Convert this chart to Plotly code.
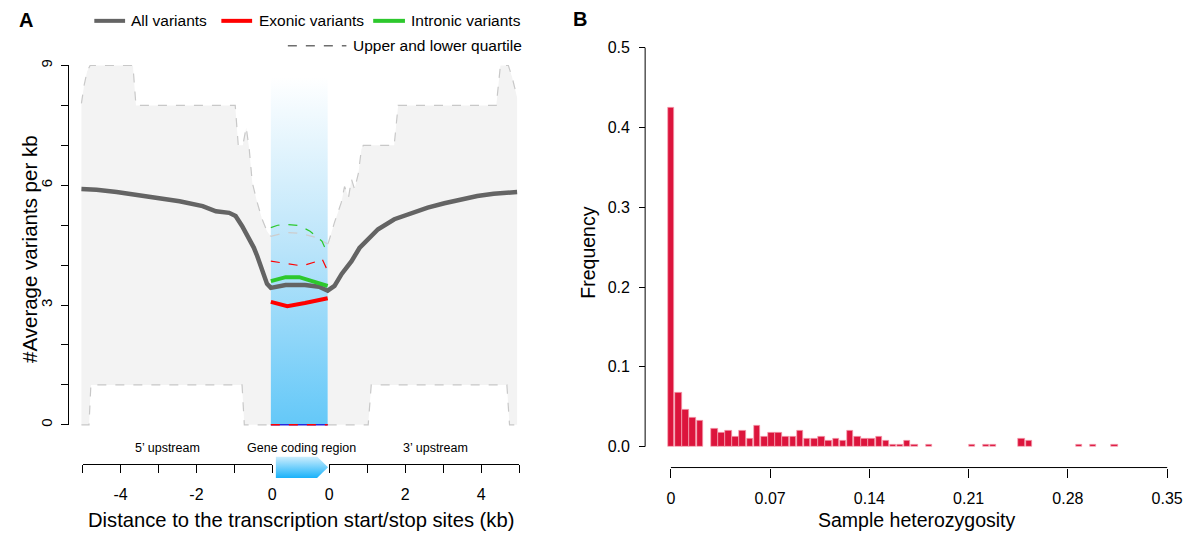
import plotly.graph_objects as go

W, H = 1194, 542
def px(x): return x / W
def py(y): return 1 - y / H

FONT = "Liberation Sans, Arial, sans-serif"

# ---------------- Panel A data ----------------
# quartile envelopes (kb from TSS / TES)
upper_left_kb = [-5, -4.93, -4.85, -4.77, -3.64, -3.56, -0.94, -0.86, -0.74, -0.67, -0.65, -0.57, -0.49, -0.36, -0.23, -0.10, 0]
upper_left_val = [8.05, 8.5, 8.85, 9.0, 9.0, 8.0, 8.0, 7.0, 7.0, 7.4, 7.45, 6.9, 6.07, 5.57, 5.15, 4.85, 4.72]
lower_left_kb = [-5, -4.8, -4.75, -0.76, -0.70, 0]
lower_left_val = [0, 0, 1, 1, 0, 0]
upper_right_kb = [0, 0.03, 0.18, 0.36, 0.445, 0.55, 0.63, 0.71, 0.81, 0.89, 0.94, 1.755, 1.86, 4.45, 4.56, 4.77, 4.87, 5.0]
upper_right_val = [4.53, 4.6, 5.07, 5.57, 5.97, 5.7, 6.15, 5.9, 6.3, 6.9, 7.0, 7.0, 8.0, 8.0, 9.0, 9.0, 8.7, 8.2]
lower_right_kb = [0, 1.07, 1.15, 4.73, 4.8, 5.0]
lower_right_val = [0, 0, 1, 1, 0, 0]

# all variants mean
all_left_kb = [-5, -4.6, -4.07, -3.46, -2.94, -2.41, -1.80, -1.45, -1.10, -0.93, -0.76, -0.58, -0.45, -0.36, -0.23, -0.10, 0]
all_left_val = [5.91, 5.89, 5.83, 5.75, 5.69, 5.60, 5.48, 5.35, 5.31, 5.23, 4.98, 4.69, 4.44, 4.23, 3.86, 3.53, 3.43]
all_gene_frac = [0, 0.26, 0.6, 0.85, 1.0]
all_gene_val = [3.43, 3.5, 3.5, 3.46, 3.36]
all_right_kb = [0, 0.18, 0.37, 0.63, 0.84, 1.07, 1.33, 1.76, 2.2, 2.64, 3.08, 3.51, 3.95, 4.38, 5.0]
all_right_val = [3.36, 3.48, 3.78, 4.1, 4.43, 4.65, 4.9, 5.15, 5.31, 5.44, 5.55, 5.64, 5.73, 5.79, 5.83]

# gene coding region (fraction of gene body)
exon_frac = [0, 0.29, 0.6, 1.0]
exon_val = [3.08, 2.97, 3.05, 3.17]
intron_frac = [0, 0.26, 0.5, 0.78, 1.0]
intron_val = [3.6, 3.7, 3.7, 3.58, 3.48]
all_up_gene_frac = [0, 0.26, 0.5, 0.78, 1.0]
all_up_gene_val = [4.72, 4.82, 4.8, 4.7, 4.53]
intron_up_frac = [0, 0.12, 0.29, 0.5, 0.69, 0.9, 1.0]
intron_up_val = [4.94, 5.0, 5.02, 4.99, 4.85, 4.6, 4.28]
exon_up_frac = [0, 0.33, 0.55, 0.78, 0.9, 0.97, 1.0]
exon_up_val = [4.1, 4.02, 3.98, 4.08, 4.16, 3.95, 3.72]
gene_low_frac = [0, 1.0]
gene_low_val = [0, 0]

y_ticks_A = [0, 1, 2, 3, 4, 5, 6, 7, 8, 9]
y_labels_A = ["0", "", "", "3", "", "", "6", "", "", "9"]
left_ticks = [-5, -4, -3, -2, -1, 0]
left_labels = ["", "-4", "", "-2", "", "0"]
right_ticks = [0, 1, 2, 3, 4, 5]
right_labels = ["0", "", "2", "", "4", ""]

# ---------------- Panel B data ----------------
het_x = [0.0, 0.0053, 0.0104, 0.0153, 0.0204, 0.0306, 0.0356, 0.0406, 0.0456, 0.0507,
         0.0558, 0.0608, 0.0659, 0.0709, 0.0760, 0.0810, 0.0861, 0.0910, 0.0961, 0.1013,
         0.1063, 0.1113, 0.1164, 0.1215, 0.1265, 0.1316, 0.1365, 0.1416, 0.1467, 0.1518,
         0.1568, 0.1617, 0.1666, 0.1717, 0.1820, 0.2123, 0.2221, 0.2273, 0.2473, 0.2525,
         0.2879, 0.2977, 0.3129]
het_freq = [0.425, 0.068, 0.046, 0.036, 0.033, 0.023, 0.017, 0.020, 0.013, 0.020,
            0.010, 0.026, 0.013, 0.017, 0.017, 0.013, 0.013, 0.020, 0.010, 0.010,
            0.013, 0.007, 0.010, 0.007, 0.020, 0.013, 0.010, 0.010, 0.013, 0.007,
            0.003, 0.003, 0.007, 0.003, 0.003, 0.003, 0.003, 0.003, 0.010, 0.007,
            0.003, 0.003, 0.003]
x_ticks_B = [0, 0.07, 0.14, 0.21, 0.28, 0.35]
x_labels_B = ["0", "0.07", "0.14", "0.21", "0.28", "0.35"]
y_ticks_B = [0, 0.1, 0.2, 0.3, 0.4, 0.5]
y_labels_B = ["0.0", "0.1", "0.2", "0.3", "0.4", "0.5"]

# ---------------- mapping to plot coordinate ----------------
GENE_W = 1.5
def L(kb): return [k + 5 for k in kb]
def G(fr): return [5 + GENE_W * f for f in fr]
def R(kb): return [5 + GENE_W + k for k in kb]

GREY_LINE = "rgb(100,100,100)"
RED = "rgb(255,0,0)"
GREEN = "rgb(45,200,45)"
Q_GREY = "rgb(200,200,200)"
FILL = "rgb(243,243,243)"

fig = go.Figure()
nolegend = dict(showlegend=False, hoverinfo="skip")

# envelope fills
fig.add_trace(go.Scatter(x=L(upper_left_kb) + L(lower_left_kb)[::-1],
                         y=upper_left_val + lower_left_val[::-1],
                         fill="toself", fillcolor=FILL, mode="lines", line=dict(width=0), **nolegend))
fig.add_trace(go.Scatter(x=R(upper_right_kb) + R(lower_right_kb)[::-1],
                         y=upper_right_val + lower_right_val[::-1],
                         fill="toself", fillcolor=FILL, mode="lines", line=dict(width=0), **nolegend))
for xs, ys in [(L(upper_left_kb), upper_left_val), (L(lower_left_kb), lower_left_val),
               (R(upper_right_kb), upper_right_val), (R(lower_right_kb), lower_right_val)]:
    fig.add_trace(go.Scatter(x=xs, y=ys, mode="lines",
                             line=dict(color=Q_GREY, width=1.2, dash="dash"), **nolegend))

# gene band with vertical gradient
fig.add_trace(go.Scatter(x=G([0, 1, 1, 0]), y=[0, 0, 8.7, 8.7], fill="toself", mode="lines",
                         line=dict(width=0),
                         fillgradient=dict(type="vertical",
                                           colorscale=[[0, "rgb(100,200,248)"], [0.5, "rgb(185,228,250)"], [1, "rgb(255,255,255)"]]),
                         **nolegend))

# gene region quartiles
fig.add_trace(go.Scatter(x=G(all_up_gene_frac), y=all_up_gene_val, mode="lines",
                         line=dict(color="rgb(205,205,205)", width=1.2, dash="dash"), **nolegend))
fig.add_trace(go.Scatter(x=G(intron_up_frac), y=intron_up_val, mode="lines",
                         line=dict(color=GREEN, width=1.2, dash="dash"), **nolegend))
fig.add_trace(go.Scatter(x=G(exon_up_frac), y=exon_up_val, mode="lines",
                         line=dict(color=RED, width=1.2, dash="dash"), **nolegend))
fig.add_trace(go.Scatter(x=G(gene_low_frac), y=gene_low_val, mode="lines",
                         line=dict(color="rgb(40,40,220)", width=1.5), **nolegend))
fig.add_trace(go.Scatter(x=G(gene_low_frac), y=gene_low_val, mode="lines",
                         line=dict(color=RED, width=1.5, dash="dash"), **nolegend))

# mean lines
fig.add_trace(go.Scatter(x=L(all_left_kb) + G(all_gene_frac) + R(all_right_kb),
                         y=all_left_val + all_gene_val + all_right_val, mode="lines",
                         line=dict(color=GREY_LINE, width=4.5), **nolegend))
fig.add_trace(go.Scatter(x=G(intron_frac), y=intron_val, mode="lines",
                         line=dict(color=GREEN, width=4), **nolegend))
fig.add_trace(go.Scatter(x=G(exon_frac), y=exon_val, mode="lines",
                         line=dict(color=RED, width=4), **nolegend))

# dummy traces for the bottom distance axes
fig.add_trace(go.Scatter(x=[-5, 0], y=[0, 0], xaxis="x2", yaxis="y2", mode="markers",
                         marker=dict(opacity=0), **nolegend))
fig.add_trace(go.Scatter(x=[0, 5], y=[0, 0], xaxis="x3", yaxis="y2", mode="markers",
                         marker=dict(opacity=0), **nolegend))
# gene arrow
fig.add_trace(go.Scatter(x=[0, 0.79, 1, 0.79, 0, 0], y=[0, 0, 0.5, 1, 1, 0], xaxis="x4", yaxis="y4",
                         fill="toself", mode="lines", line=dict(width=0),
                         fillgradient=dict(type="vertical",
                                           colorscale=[[0, "rgb(25,178,250)"], [1, "rgb(205,238,253)"]]),
                         **nolegend))

# histogram
fig.add_trace(go.Bar(x=het_x, y=het_freq, width=0.0046, xaxis="x5", yaxis="y5",
                     marker=dict(color="rgb(220,20,60)", line=dict(color="rgb(245,165,180)", width=0.7)),
                     **nolegend))

# ---------------- axes ----------------
xA0, xA1 = 70, 525           # pixel domain of panel A
ppu = (517 - 78) / 11.5      # pixels per plot unit
yppu = (427 - 65) / 9.0
tickfont = dict(family=FONT, size=16, color="black")

fig.update_layout(
    width=W, height=H, margin=dict(l=0, r=0, t=0, b=0),
    paper_bgcolor="white", plot_bgcolor="rgba(0,0,0,0)",
    font=dict(family=FONT, color="black"),
    showlegend=False,
    xaxis=dict(domain=[px(xA0), px(xA1)], range=[-(78 - xA0) / ppu, 11.5 + (xA1 - 517) / ppu],
               visible=False, fixedrange=True),
    yaxis=dict(domain=[py(432), py(60)], range=[-(432 - 427) / yppu, 9 + (65 - 60) / yppu],
               anchor="free", position=px(65), showgrid=False, zeroline=False, showline=False,
               ticks="outside", ticklen=8, tickcolor="black", tickwidth=1,
               tickvals=y_ticks_A, ticktext=y_labels_A, tickangle=-90,
               tickfont=dict(family=FONT, size=15, color="black"),
               ticklabelstandoff=3, fixedrange=True),
    xaxis2=dict(domain=[px(79.3), px(270.3)], range=[-5, 0], anchor="y2",
                showline=True, linecolor="black", linewidth=1, showgrid=False, zeroline=False,
                ticks="outside", ticklen=8, tickcolor="black", tickwidth=1,
                tickvals=left_ticks, ticktext=left_labels, tickfont=tickfont, fixedrange=True,
                ticklabelstandoff=8),
    xaxis3=dict(domain=[px(327.7), px(519)], range=[0, 5], anchor="y2",
                showline=True, linecolor="black", linewidth=1, showgrid=False, zeroline=False,
                ticks="outside", ticklen=8, tickcolor="black", tickwidth=1,
                tickvals=right_ticks, ticktext=right_labels, tickfont=tickfont, fixedrange=True,
                ticklabelstandoff=8),
    yaxis2=dict(domain=[py(466.7), py(455)], range=[0, 1], visible=False, anchor="x2", fixedrange=True),
    xaxis4=dict(domain=[px(273.7), px(326.5)], range=[0, 1], visible=False, anchor="y4", fixedrange=True),
    yaxis4=dict(domain=[py(480.5), py(459)], range=[0, 1], visible=False, anchor="x4", fixedrange=True),
    xaxis5=dict(domain=[px(655), px(1185)], range=[(655 - 672) / 1428.6, (1185 - 672) / 1428.6],
                anchor="free", position=py(470), showline=False, showgrid=False, zeroline=False,
                ticks="outside", ticklen=9, tickcolor="black", tickwidth=1,
                tickvals=x_ticks_B, ticktext=x_labels_B, tickfont=tickfont, fixedrange=True,
                ticklabelstandoff=7),
    yaxis5=dict(domain=[py(455), py(40)], range=[-(455 - 449) / 804.0, 0.5 + (47 - 40) / 804.0],
                anchor="free", position=px(646), showline=False, showgrid=False, zeroline=False,
                ticks="outside", ticklen=6, tickcolor="black", tickwidth=1,
                tickvals=y_ticks_B, ticktext=y_labels_B, tickfont=tickfont, fixedrange=True,
                ticklabelstandoff=6),
    bargap=0,
)

shapes = [
    # axis lines drawn R-style (only between first and last tick)
    dict(type="line", xref="paper", yref="y", x0=px(65), x1=px(65), y0=0, y1=9,
         line=dict(color="black", width=1)),
    dict(type="line", xref="paper", yref="y5", x0=px(646), x1=px(646), y0=0, y1=0.5,
         line=dict(color="black", width=1)),
    dict(type="line", xref="x5", yref="paper", x0=0, x1=0.35, y0=py(470), y1=py(470),
         line=dict(color="black", width=1)),
    # legend samples
    dict(type="line", xref="paper", yref="paper", x0=px(91), x1=px(122), y0=py(20), y1=py(20),
         line=dict(color=GREY_LINE, width=4)),
    dict(type="line", xref="paper", yref="paper", x0=px(219), x1=px(250), y0=py(20), y1=py(20),
         line=dict(color=RED, width=4)),
    dict(type="line", xref="paper", yref="paper", x0=px(372), x1=px(404), y0=py(20), y1=py(20),
         line=dict(color=GREEN, width=4)),
    dict(type="line", xref="paper", yref="paper", x0=px(286), x1=px(345), y0=py(45), y1=py(45),
         line=dict(color="rgb(110,110,110)", width=1.5, dash="dash")),
]

def ann(text, x, y, size, xanchor="center", angle=0, bold=False):
    return dict(text=("<b>%s</b>" % text) if bold else text, x=px(x), y=py(y), xref="paper", yref="paper",
                showarrow=False, xanchor=xanchor, yanchor="middle", textangle=angle,
                font=dict(family=FONT, size=size, color="black"))

annotations = [
    ann("A", 22, 19, 20, bold=True),
    ann("B", 580, 18, 20, bold=True),
    ann("All variants", 126, 20, 15.5, xanchor="left"),
    ann("Exonic variants", 255, 20, 15.5, xanchor="left"),
    ann("Intronic variants", 408, 20, 15.5, xanchor="left"),
    ann("Upper and lower quartile", 350, 45, 15.5, xanchor="left"),
    ann("#Average variants per kb", 25, 250, 20.5, angle=-90),
    ann("5\u2019 upstream", 165, 450, 12.5),
    ann("Gene coding region", 300, 450, 12.5),
    ann("3\u2019 upstream", 435, 450, 12.5),
    ann("Distance to the transcription start/stop sites (kb)", 299, 523, 20.2),
    ann("Frequency", 589, 254, 19.5, angle=-90),
    ann("Sample heterozygosity", 920, 523, 19.5),
]

fig.update_layout(shapes=shapes, annotations=annotations)
fig.write_html("out.html", config={"displayModeBar": False},
               post_script="document.body.style.margin='0px';document.body.style.overflow='hidden';")
